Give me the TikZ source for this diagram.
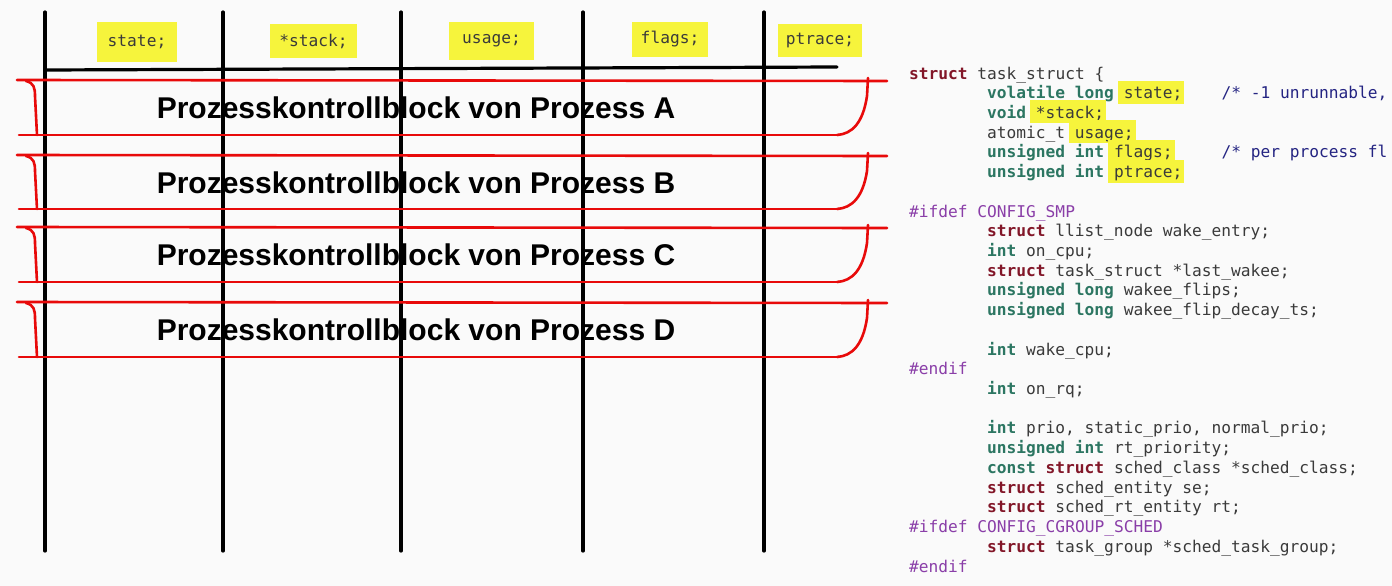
\documentclass[tikz,border=0pt]{standalone}
\usepackage{fontspec}
\setmainfont{Liberation Sans}
\newfontfamily\codefont{DejaVu Sans Mono}
\definecolor{bgc}{RGB}{250,250,250}
\definecolor{hly}{RGB}{246,244,60}
\definecolor{redl}{RGB}{232,10,10}
\definecolor{plain}{RGB}{58,58,58}
\definecolor{kwc}{RGB}{130,22,40}
\definecolor{tyc}{RGB}{44,118,98}
\definecolor{cmc}{RGB}{36,36,130}
\definecolor{ppc}{RGB}{138,62,168}
\newlength\hlw
\newcommand\hlt[1]{\settowidth\hlw{#1}\rlap{\kern-6pt\color{hly}\rule[-5pt]{\dimexpr\hlw+8pt\relax}{23pt}}#1}
\newcommand\kw[1]{{\bfseries\color{kwc}#1}}
\newcommand\ty[1]{{\bfseries\color{tyc}#1}}
\newcommand\pp[1]{{\color{ppc}#1}}
\newcommand\cm[1]{{\color{cmc}#1}}
\begin{document}
\begin{tikzpicture}[x=1pt,y=-1pt,
  vline/.style={line width=3.2pt,black,line cap=round},
  rline/.style={line width=2.6pt,redl,line cap=round},
  hdr/.style={fill=hly,inner sep=0pt,font=\codefont\fontsize{16.2}{18}\selectfont,text=plain},
  pcb/.style={font=\bfseries\fontsize{30}{34}\selectfont,inner sep=0pt,text=black},
  code/.style={anchor=base west,inner sep=0pt,font=\codefont\fontsize{16.2}{19.7}\selectfont,text=plain}]
\useasboundingbox (0,0) rectangle (1392,586);
\fill[bgc] (0,0) rectangle (1392,586);

% vertical lines
\foreach \x [count=\i] in {45,223,401,583,764}{
  \coordinate (vt\i) at (\x,12);
  \coordinate (vb\i) at (\x,551);
  \draw[vline] (vt\i) -- (vb\i);
}
\coordinate (hl) at (45,70);
\coordinate (hr) at (837,67);
\draw[vline] (hl) -- (hr);

% header labels
\node[hdr,minimum width=80pt,minimum height=40pt] (hstate) at (137,42) {state;};
\node[hdr,minimum width=87pt,minimum height=34pt] (hstack) at (313.5,41) {*stack;};
\node[hdr,minimum width=85pt,minimum height=38pt] (husage) at (491.5,41) {usage;};
\node[hdr,minimum width=76pt,minimum height=35pt] (hflags) at (670,39.5) {flags;};
\node[hdr,minimum width=84pt,minimum height=33pt] (hptrace) at (820,40.5) {ptrace;};

% red rows
\foreach \t/\b/\l [count=\i] in {80/135/A,155/209/B,227/282/C,302/357/D}{
  \coordinate (tl\i) at (17,\t);
  \coordinate (tr\i) at (887,\t+1);
  \coordinate (bl\i) at (19,\b);
  \coordinate (br\i) at (837,\b);
  \draw[rline] (tl\i) -- (tr\i);
  \draw[rline] (bl\i) -- (br\i);
  \draw[rline] (26,\t+1) .. controls (34,\t+3) and (35,\t+8) .. (35,\t+16) -- (37,\b);
  \draw[rline] (868,\t-2) -- (867,\t+16) .. controls (863,\b-12) and (852,\b-1) .. (br\i);
  \node[pcb] (pcb\l) at (416,{(\t+\b)/2+0.5}) {Prozesskontrollblock von Prozess \l};
}

% code
\def\cx{909}
\def\ci{987.0}
\def\cc{1221.3}
\node[code] (c0) at (\cx,79) {\kw{struct} task\_struct \{};
\node[code] (c1) at (\ci,98.72) {\ty{volatile long} \hlt{state;}};
\node[code] (c1c) at (\cc,98.72) {\cm{/* -1 unrunnable,}};
\node[code] (c2) at (\ci,118.44) {\ty{void} \hlt{*stack;}};
\node[code] (c3) at (\ci,138.16) {atomic\_t \hlt{usage;}};
\node[code] (c4) at (\ci,157.88) {\ty{unsigned int} \hlt{flags;}};
\node[code] (c4c) at (\cc,157.88) {\cm{/* per process fl}};
\node[code] (c5) at (\ci,177.6) {\ty{unsigned int} \hlt{ptrace;}};
\node[code] (c7) at (\cx,217.04) {\pp{\#ifdef CONFIG\_SMP}};
\node[code] (c8) at (\ci,236.76) {\kw{struct} llist\_node wake\_entry;};
\node[code] (c9) at (\ci,256.48) {\ty{int} on\_cpu;};
\node[code] (c10) at (\ci,276.2) {\kw{struct} task\_struct *last\_wakee;};
\node[code] (c11) at (\ci,295.92) {\ty{unsigned long} wakee\_flips;};
\node[code] (c12) at (\ci,315.64) {\ty{unsigned long} wakee\_flip\_decay\_ts;};
\node[code] (c14) at (\ci,355.08) {\ty{int} wake\_cpu;};
\node[code] (c15) at (\cx,374.8) {\pp{\#endif}};
\node[code] (c16) at (\ci,394.52) {\ty{int} on\_rq;};
\node[code] (c18) at (\ci,433.96) {\ty{int} prio, static\_prio, normal\_prio;};
\node[code] (c19) at (\ci,453.68) {\ty{unsigned int} rt\_priority;};
\node[code] (c20) at (\ci,473.4) {\ty{const} \kw{struct} sched\_class *sched\_class;};
\node[code] (c21) at (\ci,493.12) {\kw{struct} sched\_entity se;};
\node[code] (c22) at (\ci,512.84) {\kw{struct} sched\_rt\_entity rt;};
\node[code] (c23) at (\cx,532.56) {\pp{\#ifdef CONFIG\_CGROUP\_SCHED}};
\node[code] (c24) at (\ci,552.28) {\kw{struct} task\_group *sched\_task\_group;};
\node[code] (c25) at (\cx,572) {\pp{\#endif}};
\end{tikzpicture}
\end{document}
